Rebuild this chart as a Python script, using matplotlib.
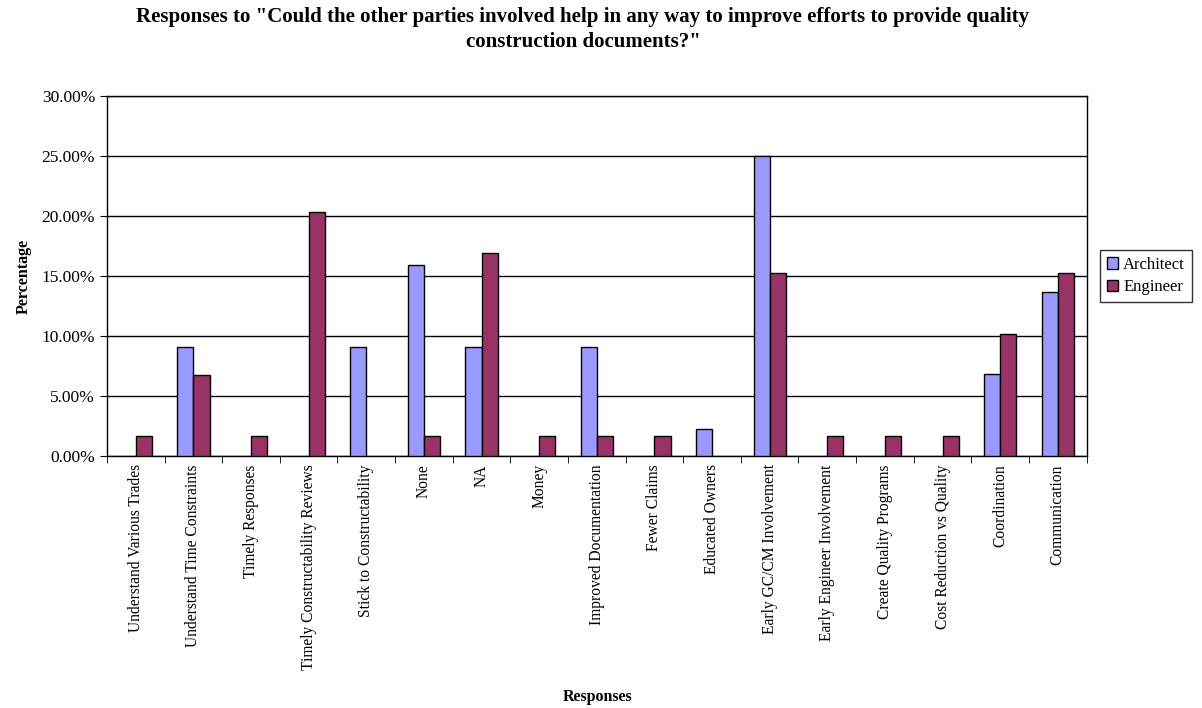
import numpy as np
import matplotlib
matplotlib.use('Agg')
import matplotlib.pyplot as plt
from matplotlib.ticker import FuncFormatter, MultipleLocator

plt.rcParams['font.family'] = ['Liberation Serif', 'DejaVu Serif']

categories = ['Understand Various Trades', 'Understand Time Constraints', 'Timely Responses',
              'Timely Constructability Reviews', 'Stick to Constructability', 'None', 'NA',
              'Money', 'Improved Documentation', 'Fewer Claims', 'Educated Owners',
              'Early GC/CM Involvement', 'Early Engineer Involvement', 'Create Quality Programs',
              'Cost Reduction vs Quality', 'Coordination', 'Communication']
architect = [0, 9.09, 0, 0, 9.09, 15.91, 9.09, 0, 9.09, 0, 2.27, 25.0, 0, 0, 0, 6.82, 13.64]
engineer = [1.69, 6.78, 1.69, 20.34, 0, 1.69, 16.95, 1.69, 1.69, 1.69, 0, 15.25, 1.69, 1.69, 1.69, 10.17, 15.25]

fig = plt.figure(figsize=(12.02, 7.08), dpi=100)
ax = fig.add_axes([0.089, 0.356, 0.815, 0.508])

x = np.arange(len(categories))
w = 0.28
# zero values get no bar at all (nan), as in the original
a = np.array(architect, dtype=float)
e = np.array(engineer, dtype=float)
a[a == 0] = np.nan
e[e == 0] = np.nan
ax.bar(x - w / 2, a, w, color='#9999FF', edgecolor='black', linewidth=1, label='Architect', zorder=3)
ax.bar(x + w / 2, e, w, color='#993366', edgecolor='black', linewidth=1, label='Engineer', zorder=3)

ax.set_xlim(-0.5, len(categories) - 0.5)
ax.set_ylim(0, 30)
ax.yaxis.set_major_locator(MultipleLocator(5))
ax.yaxis.set_major_formatter(FuncFormatter(lambda v, p: '%.2f%%' % v))
ax.grid(axis='y', color='black', linewidth=1, zorder=0)

# category labels centred, tick marks on the boundaries
ax.set_xticks(x)
ax.set_xticklabels(categories, rotation=90, fontsize=11.2)
ax.tick_params(axis='x', length=0, pad=6)
ax.set_xticks(np.arange(-0.5, len(categories), 1), minor=True)
ax.tick_params(axis='x', which='minor', length=5, direction='out')
ax.tick_params(axis='y', labelsize=12.5, length=5, direction='out')

for s in ax.spines.values():
    s.set_color('black')
    s.set_linewidth(1)

ax.set_ylabel('Percentage', fontsize=11.5, fontweight='bold', labelpad=7)
fig.text(0.497, 0.016, 'Responses', ha='center', va='center', fontsize=11.5, fontweight='bold')
fig.suptitle('Responses to "Could the other parties involved help in any way to improve efforts to provide quality\nconstruction documents?"',
             x=0.485, fontsize=15, fontweight='bold', y=0.99, linespacing=1.3)

leg = ax.legend(loc='center left', bbox_to_anchor=(1.005, 0.5), fontsize=12, frameon=True,
                fancybox=False, handlelength=0.7, handleheight=0.7, handletextpad=0.3,
                borderpad=0.4, labelspacing=0.4)
leg.get_frame().set_edgecolor('black')
leg.get_frame().set_linewidth(1)

fig.savefig('out.png', dpi=100)
